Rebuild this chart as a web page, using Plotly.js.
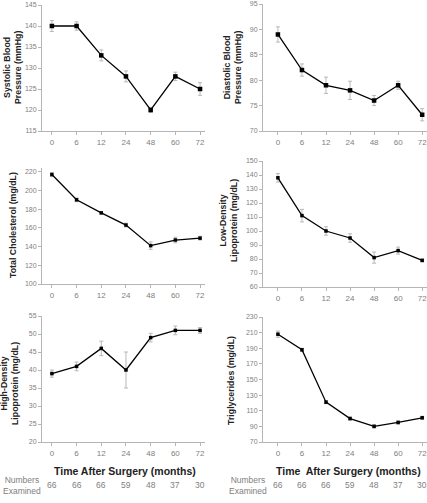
<!DOCTYPE html>
<html>
<head>
<meta charset="utf-8">
<script src="https://cdn.plot.ly/plotly-3.0.1.min.js"></script>
<style>html,body{margin:0;padding:0;background:#fff;}#chart{width:427px;height:503px;}</style>
</head>
<body>
<div id="chart"></div>
<script>
// ---- data ----
const months = ['0','6','12','24','48','60','72'];
const numbersExamined = [66,66,66,59,48,37,30];

const systolic    = [140,140,133,128,120,128,125];
const systolicErr = [1.3,1.0,1.3,1.3,0.6,1.0,1.5];

const diastolic    = [89,82,79,78,76,79,73.2];
const diastolicErr = [1.5,1.2,1.6,1.8,1.0,0.8,1.2];

const totalChol    = [217,190,176,163,141,147,149];
const totalCholErr = [2,2,1,2,4,3,2];

const ldl    = [138,111,100,95,81,86,79];
const ldlErr = [3,4.5,3,3,4,2.5,1];

const hdl    = [39,41,46,40,49,51,51];
const hdlErr = [1,1.2,2,5,1.2,1.2,0.8];

const trig    = [208,188,121,100,90,95,101];
const trigErr = [4,2,2,2,2,2,2];

const yTitles = [
  'Systolic Blood<br>Pressure (mmHg)',
  'Diastolic Blood<br>Pressure (mmHg)',
  'Total Cholesterol (mg/dL)',
  'Low-Density<br>Lipoprotein (mg/dL)',
  'High-Density<br>Lipoprotein (mg/dL)',
  'Triglycerides (mg/dL)'
];
const xTitles = ['Time After Surgery (months)', 'Time\u00a0 After Surgery (months)'];

// ---- layout helpers ----
const W = 427, H = 503;
const fx = p => p / W;
const fy = p => 1 - p / H;

const panels = [
  {y: systolic,  e: systolicErr,  range:[115,145], dtick:5,  xd:[42,205], yd:[131,5],   msize:4.5, title:[13,68]},
  {y: diastolic, e: diastolicErr, range:[70,95],   dtick:5,  xd:[263,427], yd:[131,4],  msize:4.5, title:[233,68]},
  {y: totalChol, e: totalCholErr, range:[100,224], dtick:20, xd:[42,205], yd:[284,168], msize:3.5, title:[13,225]},
  {y: ldl,       e: ldlErr,       range:[60,150],  dtick:10, xd:[263,427], yd:[287,161],msize:3.5, title:[229,221]},
  {y: hdl,       e: hdlErr,       range:[20,55],   dtick:5,  xd:[42,205], yd:[442,316], msize:3.5, title:[9,384]},
  {y: trig,      e: trigErr,      range:[70,230],  dtick:20, xd:[263,427], yd:[442,317],msize:3.5, title:[231,381]}
];

const data = [];
const layout = {
  width: W, height: H,
  margin: {l:0, r:0, t:0, b:0},
  paper_bgcolor: '#fff', plot_bgcolor: '#fff',
  showlegend: false,
  font: {family: 'Liberation Sans, Arial, sans-serif', color: '#777'},
  annotations: []
};

panels.forEach((p, i) => {
  const n = i + 1;
  const xs = n === 1 ? '' : String(n);
  const isLeft = i % 2 === 0;
  data.push({
    type: 'scatter', mode: 'lines+markers',
    x: months, y: p.y,
    xaxis: 'x' + xs, yaxis: 'y' + xs,
    line: {color: '#000', width: 1.3},
    marker: {symbol: 'square', size: p.msize, color: '#000'},
    error_y: {type: 'data', array: p.e, visible: true, color: '#b8b8b8', thickness: 1, width: 2},
    cliponaxis: false,
    hoverinfo: 'skip'
  });
  layout['xaxis' + xs] = {
    type: 'category',
    domain: [fx(p.xd[0]), fx(p.xd[1])],
    range: isLeft ? [-0.4, 6.2] : [-0.62, 6.2],
    anchor: 'y' + xs,
    showline: true, linecolor: '#b5b5b5', linewidth: 1,
    ticks: 'outside', ticklen: 3, tickcolor: '#b5b5b5',
    tickfont: {size: 8, color: '#808080'},
    showgrid: false, zeroline: false, fixedrange: true
  };
  layout['yaxis' + xs] = {
    domain: [fy(p.yd[0]), fy(p.yd[1])],
    range: p.range, tick0: p.range[0], dtick: p.dtick,
    anchor: 'x' + xs,
    showline: true, linecolor: '#b5b5b5', linewidth: 1,
    ticks: 'outside', ticklen: 3, tickcolor: '#b5b5b5',
    tickfont: {size: 7, color: '#808080'},
    showgrid: false, zeroline: false, fixedrange: true
  };
  layout.annotations.push({
    xref: 'paper', yref: 'paper',
    x: fx(p.title[0]), y: fy(p.title[1]),
    xanchor: 'center', yanchor: 'middle',
    textangle: -90, showarrow: false,
    text: '<b>' + yTitles[i] + '</b>',
    font: {size: 8.8, color: '#222'}
  });
});

// x titles
[[125, xTitles[0]], [348, xTitles[1]]].forEach(([px, t]) => {
  layout.annotations.push({
    xref: 'paper', yref: 'paper', x: fx(px), y: fy(471),
    xanchor: 'center', yanchor: 'middle', showarrow: false,
    text: '<b>' + t + '</b>', font: {size: 10.5, color: '#222'}
  });
});

// numbers examined
[[22, 'x5'], [248, 'x6']].forEach(([px, xr]) => {
  layout.annotations.push({
    xref: 'paper', yref: 'paper', x: fx(px), y: fy(485),
    xanchor: 'center', yanchor: 'middle', showarrow: false,
    text: 'Numbers<br>Examined', font: {size: 8.5, color: '#808080'}
  });
  numbersExamined.forEach((v, k) => {
    layout.annotations.push({
      xref: xr, yref: 'paper', x: k, y: fy(485),
      xanchor: 'center', yanchor: 'middle', showarrow: false,
      text: String(v), font: {size: 8.5, color: '#808080'}
    });
  });
});

Plotly.newPlot('chart', data, layout, {staticPlot: true, displayModeBar: false});
</script>
</body>
</html>
